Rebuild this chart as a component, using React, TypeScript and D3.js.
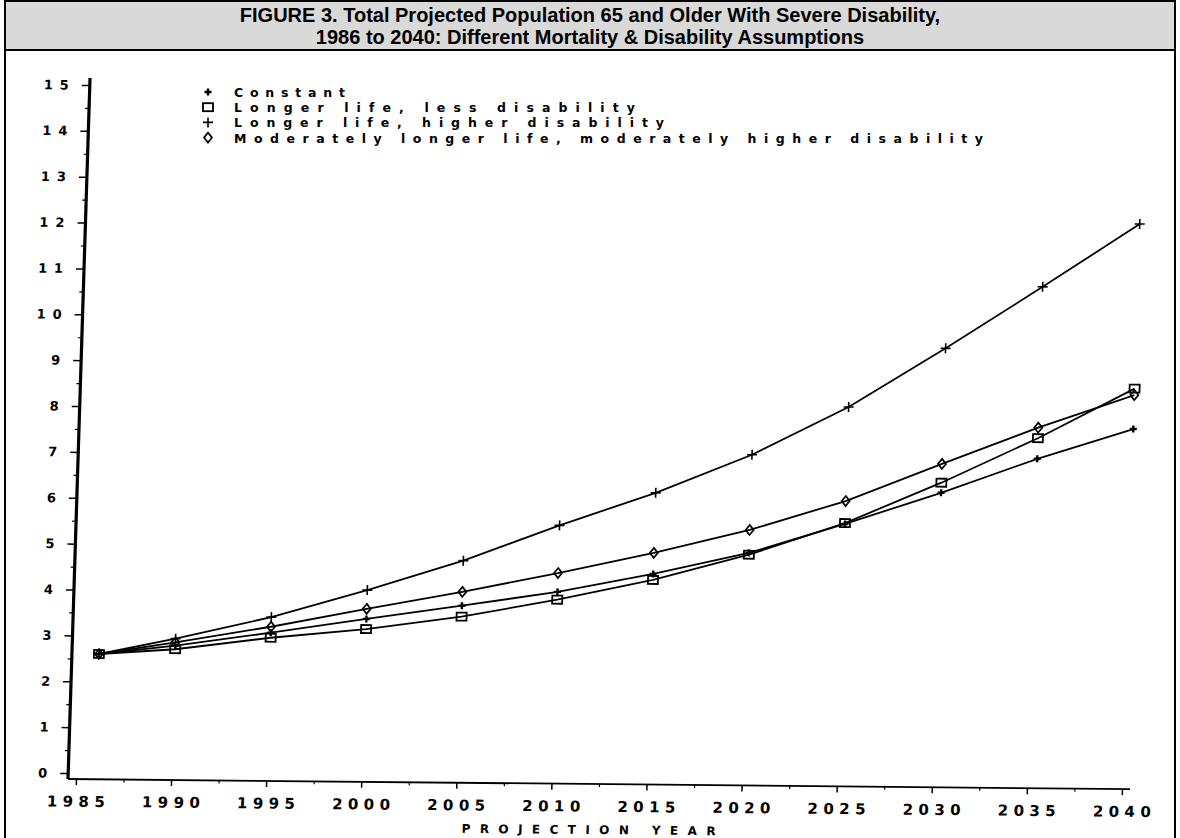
import * as d3 from "d3";
import React, { useRef, useEffect } from "react";

const titleLines = [
    "FIGURE 3. Total Projected Population 65 and Older With Severe Disability,",
    "1986 to 2040: Different Mortality & Disability Assumptions",
];
const xAxisTitle = "PROJECTION YEAR";

// projection years and values (millions)
const years = [1986, 1990, 1995, 2000, 2005, 2010, 2015, 2020, 2025, 2030, 2035, 2040];
const constant = [2.6, 2.8, 3.1, 3.42, 3.73, 4.05, 4.46, 4.94, 5.59, 6.29, 7.05, 7.72];
const lessDisability = [2.6, 2.72, 2.99, 3.2, 3.49, 3.88, 4.33, 4.9, 5.61, 6.51, 7.5, 8.6];
const higherDisability = [2.6, 2.95, 3.44, 4.05, 4.71, 5.5, 6.23, 7.08, 8.14, 9.44, 10.8, 12.19];
const moderate = [2.6, 2.87, 3.23, 3.64, 4.03, 4.46, 4.92, 5.44, 6.09, 6.92, 7.73, 8.46];

const seriesLabels = [
    "Constant",
    "Longer life, less disability",
    "Longer life, higher disability",
    "Moderately longer life, moderately higher disability",
];
const seriesMarkers = ["star", "square", "plus", "diamond"];

const xTicks = [1985, 1990, 1995, 2000, 2005, 2010, 2015, 2020, 2025, 2030, 2035, 2040];
const yTicks = [0, 1, 2, 3, 4, 5, 6, 7, 8, 9, 10, 11, 12, 13, 14, 15];

const printFont = "'DejaVu Sans', sans-serif";

function drawMarker(g, kind) {
    const m = g.append("g").attr("fill", "none").attr("stroke", "#000");
    if (kind === "star") {
        m.append("path").attr("d", "M-3.5,0H3.5M0,-3.5V3.5").attr("stroke-width", 2.4);
    } else if (kind === "square") {
        m.append("rect").attr("x", -5).attr("y", -4).attr("width", 10).attr("height", 8)
            .attr("stroke-width", 1.8);
    } else if (kind === "plus") {
        m.append("path").attr("d", "M-5,0H5M0,-5V5").attr("stroke-width", 1.6);
    } else {
        m.append("path").attr("d", "M0,-5L4,0L0,5L-4,0Z").attr("stroke-width", 1.7);
    }
}

export default function App() {

    const ref = useRef(null);

    useEffect(() => {

        const container = d3.select(ref.current);
        container.selectAll("*").remove();

        const width = 1180;
        const height = 838;

        const svg = container.append("svg")
            .attr("width", width)
            .attr("height", height)
            .style("position", "absolute")
            .style("left", 0)
            .style("top", 0)
            .style("background", "#fff");

        // outer frame and title box
        svg.append("rect")
            .attr("x", 5).attr("y", 1)
            .attr("width", 1170).attr("height", 845)
            .attr("fill", "none").attr("stroke", "#000").attr("stroke-width", 2);

        svg.append("rect")
            .attr("x", 5).attr("y", 1)
            .attr("width", 1170).attr("height", 49)
            .attr("fill", "#d9d9d9").attr("stroke", "#000").attr("stroke-width", 2);

        svg.append("g")
            .selectAll("text")
            .data(titleLines)
            .enter().append("text")
            .attr("x", 590)
            .attr("y", (d, i) => 22 + i * 22)
            .attr("text-anchor", "middle")
            .attr("font-family", "'Liberation Sans', Arial, sans-serif")
            .attr("font-weight", "bold")
            .attr("font-size", 20)
            .text(d => d);

        // the scan is slightly skewed: plot in a sheared frame around the axis corner
        const ox = 68, oy = 779, kx = -0.0314, ky = 0.0096;
        const chart = svg.append("g")
            .attr("transform", `translate(${ox},${oy}) matrix(1,${ky},${kx},1,0,0) translate(${-ox},${-oy})`);

        const x = d3.scaleLinear().domain([1985, 2040]).range([76, 1122]);
        const y = d3.scaleLinear().domain([0, 15]).range([773, 85]);

        // y axis
        const yAxis = chart.append("g")
            .attr("transform", `translate(${ox},0)`)
            .call(d3.axisLeft(y).tickValues(yTicks).tickSize(8).tickSizeOuter(0).tickPadding(13));
        yAxis.select(".domain").remove();
        yAxis.selectAll("line").attr("stroke", "#000").attr("stroke-width", 1.5);
        yAxis.selectAll("text")
            .attr("font-family", printFont)
            .attr("font-weight", "bold")
            .attr("font-size", 13)
            .attr("fill", "#000")
            .attr("textLength", d => String(d).length * 13.5 - 2)
            .attr("lengthAdjust", "spacing");

        const yMinor = chart.append("g")
            .attr("transform", `translate(${ox},0)`)
            .call(d3.axisLeft(y).tickValues(d3.range(0.5, 15, 1)).tickSize(4).tickSizeOuter(0).tickFormat(() => ""));
        yMinor.select(".domain").remove();
        yMinor.selectAll("line").attr("stroke", "#000").attr("stroke-width", 1.2);

        chart.append("line")
            .attr("x1", ox).attr("x2", ox)
            .attr("y1", oy).attr("y2", 78)
            .attr("stroke", "#000").attr("stroke-width", 3.2);

        // x axis
        const xAxis = chart.append("g")
            .attr("transform", `translate(0,${oy})`)
            .call(d3.axisBottom(x).tickValues(xTicks).tickSize(6).tickSizeOuter(0).tickPadding(11).tickFormat(d3.format("d")));
        xAxis.select(".domain").remove();
        xAxis.selectAll("line").attr("stroke", "#000").attr("stroke-width", 1.5);
        xAxis.selectAll("text")
            .attr("font-family", printFont)
            .attr("font-weight", "bold")
            .attr("font-size", 15)
            .attr("fill", "#000")
            .attr("textLength", 58)
            .attr("lengthAdjust", "spacing");

        const xMinor = chart.append("g")
            .attr("transform", `translate(0,${oy})`)
            .call(d3.axisBottom(x).tickValues(d3.range(1987.5, 2040, 5)).tickSize(3).tickSizeOuter(0).tickFormat(() => ""));
        xMinor.select(".domain").remove();
        xMinor.selectAll("line").attr("stroke", "#000").attr("stroke-width", 1.2);

        chart.append("line")
            .attr("x1", ox).attr("x2", 1130)
            .attr("y1", oy).attr("y2", oy)
            .attr("stroke", "#000").attr("stroke-width", 1.8);

        chart.append("text")
            .attr("x", 590)
            .attr("y", 829)
            .attr("text-anchor", "middle")
            .attr("font-family", printFont)
            .attr("font-size", 12)
            .attr("font-weight", "bold")
            .attr("textLength", 254)
            .attr("lengthAdjust", "spacing")
            .text(xAxisTitle);

        // series
        const allSeries = [constant, lessDisability, higherDisability, moderate];
        const line = d3.line()
            .x((d, i) => x(years[i]))
            .y(d => y(d));

        chart.selectAll(".series")
            .data(allSeries)
            .enter().append("path")
            .attr("class", "series")
            .attr("d", d => line(d))
            .attr("fill", "none")
            .attr("stroke", "#000")
            .attr("stroke-width", 1.8);

        allSeries.forEach((values, s) => {
            values.forEach((v, i) => {
                const g = chart.append("g")
                    .attr("transform", `translate(${x(years[i])},${y(v)})`);
                drawMarker(g, seriesMarkers[s]);
            });
        });

        // legend
        const legend = svg.append("g")
            .selectAll(".legendLine")
            .data(seriesLabels)
            .enter().append("g")
            .attr("class", "legendLine")
            .attr("transform", (d, i) => `translate(208,${92 + i * 15.2})`);

        legend.each(function(d, i) {
            drawMarker(d3.select(this), seriesMarkers[i]);
        });

        legend.append("text")
            .attr("x", 26)
            .attr("y", 5)
            .attr("font-family", printFont)
            .attr("font-weight", "bold")
            .attr("font-size", 12.5)
            .attr("textLength", d => d.length * 14.5 - 5)
            .attr("lengthAdjust", "spacing")
            .text(d => d);

    }, []);

    return (
        <div ref={ref} />
    );
}
